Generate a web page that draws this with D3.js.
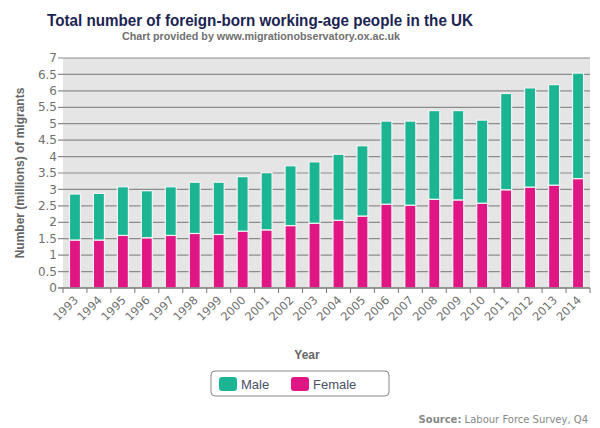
<!DOCTYPE html>
<html><head><meta charset="utf-8">
<script src="https://cdn.jsdelivr.net/npm/d3@7"></script>
<style>body{margin:0;background:#fff}svg{display:block}</style>
</head><body>
<svg id="c" width="600" height="428"></svg>
<script>
const years = ["1993","1994","1995","1996","1997","1998","1999","2000","2001","2002","2003","2004","2005","2006","2007","2008","2009","2010","2011","2012","2013","2014"];
const female = [1.46,1.46,1.60,1.53,1.60,1.66,1.63,1.73,1.77,1.90,1.97,2.06,2.19,2.55,2.52,2.70,2.68,2.58,2.99,3.07,3.13,3.33];
const male   = [1.40,1.42,1.48,1.43,1.48,1.56,1.59,1.66,1.74,1.82,1.87,2.01,2.14,2.53,2.56,2.70,2.72,2.53,2.93,3.02,3.06,3.21];
const yTicks = [0,0.5,1,1.5,2,2.5,3,3.5,4,4.5,5,5.5,6,6.5,7];
const seriesNames = ["Male","Female"];
const colors = {Male:"#1bb594", Female:"#df1683"};

const svg = d3.select("#c");
const L=63, R=590, T=58, B=288;
const x = d3.scaleBand().domain(years).range([L,R]).paddingInner(0.54).paddingOuter(0.27);
const y = d3.scaleLinear().domain([0,7]).range([B,T]);

svg.append("rect").attr("x",L).attr("y",T).attr("width",R-L).attr("height",B-T).attr("fill","#e5e5e5");

// grid
svg.append("g").selectAll("line").data(yTicks.filter(d=>d>0)).join("line")
  .attr("x1",L-5).attr("x2",R).attr("y1",d=>y(d)).attr("y2",d=>y(d))
  .attr("stroke","#8c8c8c").attr("stroke-width",1.2);

// y labels
svg.append("g").selectAll("text").data(yTicks).join("text")
  .attr("x",L-6).attr("y",d=>y(d)).attr("dy","0.35em").attr("text-anchor","end")
  .attr("font-family","DejaVu Sans").attr("font-size",12).attr("fill","#707070")
  .text(d=>d);

// bars
const data = years.map((yr,i)=>({year:yr, Female:female[i], Male:male[i]}));
const stack = d3.stack().keys(["Female","Male"])(data);
svg.append("g").selectAll("g").data(stack).join("g")
  .attr("fill",d=>colors[d.key])
  .selectAll("rect").data(d=>d).join("rect")
  .attr("x",d=>x(d.data.year)).attr("width",x.bandwidth())
  .attr("y",d=>y(d[1])).attr("height",d=>y(d[0])-y(d[1]))
  .attr("stroke","#f4f4f4").attr("stroke-width",1.2);

// x axis
svg.append("line").attr("x1",L-5).attr("x2",R).attr("y1",B).attr("y2",B).attr("stroke","#777").attr("stroke-width",1.3);
const bounds = d3.range(years.length+1).map(i=>L + i*(R-L)/years.length);
svg.append("g").selectAll("line").data(bounds).join("line")
  .attr("x1",d=>d).attr("x2",d=>d).attr("y1",B).attr("y2",B+5).attr("stroke","#777");
svg.append("g").selectAll("text").data(years).join("text")
  .attr("transform",d=>`translate(${x(d)+x.bandwidth()/2+1},${B+10}) rotate(-45)`)
  .attr("text-anchor","end").attr("dy","0.35em")
  .attr("font-family","DejaVu Sans").attr("font-size",11.5).attr("fill","#707070")
  .text(d=>d);

// titles
svg.append("text").attr("x",260).attr("y",26).attr("text-anchor","middle")
  .attr("font-family","Liberation Sans").attr("font-weight","bold").attr("font-size",16.5).attr("fill","#1b2452")
  .attr("textLength",426).attr("lengthAdjust","spacingAndGlyphs")
  .text("Total number of foreign-born working-age people in the UK");
svg.append("text").attr("x",261).attr("y",40).attr("text-anchor","middle")
  .attr("font-family","Liberation Sans").attr("font-weight","bold").attr("font-size",11.5).attr("fill","#707070")
  .attr("textLength",278).attr("lengthAdjust","spacingAndGlyphs")
  .text("Chart provided by www.migrationobservatory.ox.ac.uk");
svg.append("text").attr("transform","translate(24,173) rotate(-90)").attr("text-anchor","middle")
  .attr("font-family","Liberation Sans").attr("font-weight","bold").attr("font-size",12).attr("fill","#666")
  .text("Number (millions) of migrants");
svg.append("text").attr("x",307).attr("y",359).attr("text-anchor","middle")
  .attr("font-family","Liberation Sans").attr("font-weight","bold").attr("font-size",12).attr("fill","#666")
  .text("Year");

// legend
svg.append("rect").attr("x",211).attr("y",371).attr("width",178).attr("height",25).attr("rx",4)
  .attr("fill","#fff").attr("stroke","#888").attr("stroke-width",1);
const lx = [219,291];
seriesNames.forEach((n,i)=>{
  svg.append("rect").attr("x",lx[i]).attr("y",377).attr("width",18).attr("height",14).attr("rx",3).attr("fill",colors[n]);
  svg.append("text").attr("x",lx[i]+22).attr("y",389).attr("font-family","Liberation Sans").attr("font-size",13).attr("fill","#4a5068").text(n);
});

// source
const src = svg.append("text").attr("x",588).attr("y",423).attr("text-anchor","end")
  .attr("font-family","DejaVu Sans").attr("font-size",10).attr("fill","#888");
src.append("tspan").attr("font-weight","bold").text("Source:");
src.append("tspan").text("  Labour Force Survey, Q4");
</script>
</body></html>
